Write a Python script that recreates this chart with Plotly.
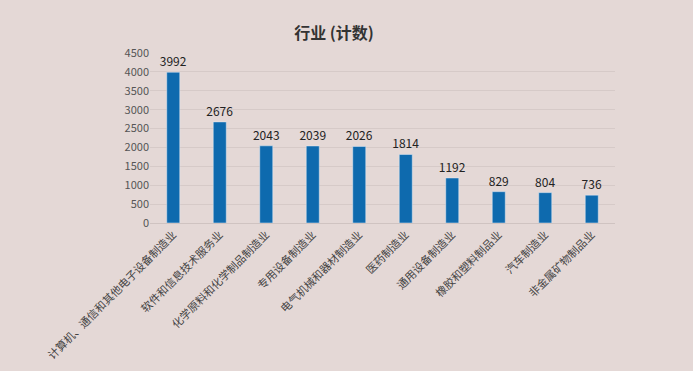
import plotly.graph_objects as go

categories = [
    "计算机、通信和其他电子设备制造业",
    "软件和信息技术服务业",
    "化学原料和化学制品制造业",
    "专用设备制造业",
    "电气机械和器材制造业",
    "医药制造业",
    "通用设备制造业",
    "橡胶和塑料制品业",
    "汽车制造业",
    "非金属矿物制品业",
]
counts = [3992, 2676, 2043, 2039, 2026, 1814, 1192, 829, 804, 736]
y_ticks = [0, 500, 1000, 1500, 2000, 2500, 3000, 3500, 4000, 4500]

bg = "#e4d8d6"
fig = go.Figure(
    go.Bar(
        x=categories,
        y=counts,
        marker=dict(color="#0e6aae"),
        width=0.28,
        text=[str(v) for v in counts],
        textposition="outside",
        constraintext="none",
        textfont=dict(family="Noto Sans CJK SC, Open Sans", size=12, color="#222222"),
        cliponaxis=False,
    )
)
fig.update_layout(
    width=693,
    height=371,
    paper_bgcolor=bg,
    plot_bgcolor=bg,
    margin=dict(l=150, r=78, t=53, b=148, autoexpand=False),
    title=dict(
        text="<b>行业 (计数)</b>",
        x=0.482,
        xanchor="center",
        y=0.91,
        yanchor="middle",
        font=dict(family="Noto Sans CJK SC", size=16, color="#333333"),
    ),
    showlegend=False,
    font=dict(family="Noto Sans CJK SC", color="#555555"),
)
fig.update_xaxes(
    tickangle=-45,
    tickfont=dict(size=11, color="#444444"),
    showgrid=False,
    showline=True,
    linecolor="#cfc3c1",
    ticks="",
    automargin=False,
)
fig.update_yaxes(
    range=[0, 4500],
    tickvals=y_ticks,
    tickfont=dict(size=11, color="#555555"),
    gridcolor="#d6cac8",
    zeroline=False,
    ticks="",
    automargin=False,
)
fig.write_html(
    "out.html",
    config={"displayModeBar": False},
    post_script="document.body.style.margin='0';",
)
